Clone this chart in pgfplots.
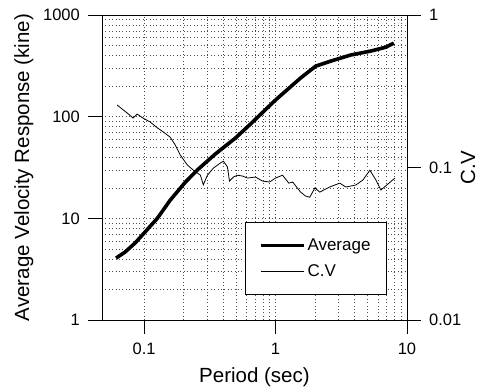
\documentclass[border=0pt]{standalone}
\usepackage{fontspec}
\setmainfont{Liberation Sans}
\usepackage{pgfplots}
\pgfplotsset{compat=1.18}
\pgfplotstableread{
T V
0.0612 4.07
0.0716 4.66
0.0853 5.71
0.1 7.17
0.126 10
0.158 15.1
0.206 22.7
0.254 29.9
0.348 42.9
0.495 61.6
0.645 84.6
1.0 146
1.55 240
2.02 314
2.63 352
3.73 404
5.31 442
6.92 483
7.95 529
}\avgdata
\pgfplotstableread{
T CV
0.0622 0.257
0.0742 0.228
0.0824 0.211
0.0885 0.224
0.098 0.211
0.111 0.199
0.126 0.182
0.140 0.171
0.158 0.158
0.172 0.141
0.188 0.121
0.213 0.104
0.237 0.096
0.268 0.089
0.282 0.077
0.303 0.089
0.336 0.099
0.380 0.107
0.401 0.110
0.430 0.101
0.446 0.0815
0.478 0.0866
0.513 0.089
0.560 0.0879
0.611 0.0853
0.703 0.0866
0.796 0.0815
0.900 0.0803
1.0 0.0853
1.13 0.089
1.26 0.079
1.35 0.0803
1.55 0.069
1.69 0.065
1.82 0.0638
1.99 0.0734
2.17 0.069
2.58 0.0745
3.08 0.079
3.42 0.0745
4.08 0.0768
4.62 0.0828
5.22 0.096
5.80 0.0828
6.33 0.0712
8.10 0.0853
}\cvdata
\pgfplotsset{
  every axis/.append style={
    scale only axis, width=305pt, height=305pt,
    xmin=0.0478, xmax=10,
    tick align=outside, major tick length=14pt, minor tick length=0pt,
    tick style={black, line width=0.6pt},
    axis line style={line width=0.7pt},
    /pgf/number format/assume math mode=true,
    ticklabel style={font=\fontsize{16.5}{19}\selectfont},
    label style={font=\fontsize{20.5}{24}\selectfont},
    yticklabel style={inner xsep=8pt},
    xticklabel style={inner ysep=9pt},
  }
}
\begin{document}
\begin{tikzpicture}
\begin{axis}[name=main, xmode=log, ymode=log, ymin=1, ymax=1000,
  xtick={0.1,1,10}, xticklabels={0.1,1,10},
  ytick={1,10,100,1000}, yticklabels={1,10,100,1000},
  xtick pos=bottom, ytick pos=left,
  grid=both,
  minor grid style={black!70, line width=0.45pt, dash pattern=on 0.8pt off 2.6pt},
  major grid style={black!70, line width=0.45pt, dash pattern=on 0.8pt off 2.6pt},
  xlabel={Period (sec)}, ylabel={Average Velocity Response (kine)},
  xlabel style={at={(axis description cs:0.5,-0.187)}, anchor=center},
  ylabel style={at={(axis description cs:-0.256,0.5)}, anchor=center, rotate=0},
]
\addplot[black, line width=3.6pt, line join=round] table[x=T, y=V] {\avgdata};
\end{axis}
\begin{axis}[xmode=log, axis x line=none, axis y line*=right, ymode=log, ymin=0.01, ymax=1,
  ytick={0.01,0.1,1}, yticklabels={0.01,0.1,1},
  ylabel={C.V},
  ylabel style={at={(axis description cs:1.2,0.5)}, anchor=center, rotate=0},
  legend style={at={(0.934,0.082)}, anchor=south east, draw=black, line width=0.7pt,
    font=\fontsize{17}{20}\selectfont, inner xsep=14pt, inner ysep=15pt,
    row sep=8pt, fill=white},
  legend cell align=left,
  legend image code/.code={\draw[#1] (0pt,0pt) -- (43pt,0pt);},
]
\addlegendimage{black, line width=3.6pt}
\addlegendentry{Average}
\addplot[black, line width=0.8pt] table[x=T, y=CV] {\cvdata};
\addlegendentry{C.V}
\end{axis}
\path ([shift={(-102pt,-71pt)}]main.south west) rectangle ([shift={(77pt,15pt)}]main.north east);
\end{tikzpicture}
\end{document}
